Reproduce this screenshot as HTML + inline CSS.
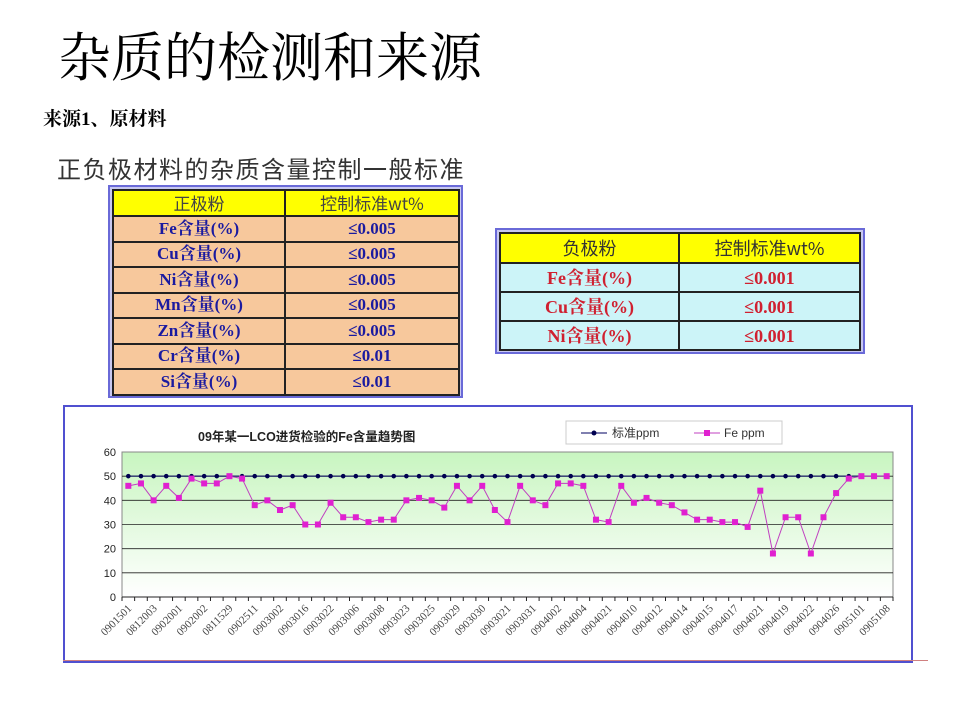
<!DOCTYPE html>
<html><head><meta charset="utf-8"><style>
body{margin:0;width:960px;height:720px;background:#fff;position:relative;overflow:hidden;font-family:"Liberation Sans","Noto Sans CJK SC",sans-serif}
.a{position:absolute;white-space:nowrap}
table{border-collapse:collapse;position:absolute;table-layout:fixed}
td{border:2px solid #222;text-align:center;font-family:"Liberation Serif","Noto Serif CJK SC",serif;font-weight:bold;padding:0;line-height:18px;overflow:hidden}
</style></head><body>
<div class="a" style="left:58px;top:27px;font-size:53px;font-family:'Liberation Serif','Noto Serif CJK SC',serif;line-height:64px">杂质的检测和来源</div>
<div class="a" style="left:43px;top:104px;font-size:19px;font-weight:bold;font-family:'Liberation Serif','Noto Serif CJK SC',serif">来源1、原材料</div>
<div class="a" style="left:57px;top:150px;font-size:24px;color:#333;letter-spacing:1.5px;font-family:'Liberation Sans','Noto Sans CJK SC',sans-serif">正负极材料的杂质含量控制一般标准</div>
<div class="a" style="left:108px;top:185px;width:351px;height:209px;border:2px solid #6a6ad8;background:#c8c8f0"></div>
<table style="left:112px;top:189px;width:348px;color:#1a1aa0;font-size:17px">
<tr style="height:26px;background:#ffff00;color:#444"><td style="width:170px;font-weight:normal;font-family:'Noto Sans CJK SC',sans-serif">正极粉</td><td style="font-weight:normal;font-family:'Noto Sans CJK SC',sans-serif">控制标准wt%</td></tr>
<tr style="height:25.5px;background:#f7c89c"><td>Fe含量(%)</td><td>≤0.005</td></tr>
<tr style="height:25.5px;background:#f7c89c"><td>Cu含量(%)</td><td>≤0.005</td></tr>
<tr style="height:25.5px;background:#f7c89c"><td>Ni含量(%)</td><td>≤0.005</td></tr>
<tr style="height:25.5px;background:#f7c89c"><td>Mn含量(%)</td><td>≤0.005</td></tr>
<tr style="height:25.5px;background:#f7c89c"><td>Zn含量(%)</td><td>≤0.005</td></tr>
<tr style="height:25.5px;background:#f7c89c"><td>Cr含量(%)</td><td>≤0.01</td></tr>
<tr style="height:25.5px;background:#f7c89c"><td>Si含量(%)</td><td>≤0.01</td></tr>
</table>
<div class="a" style="left:495px;top:228px;width:366px;height:122px;border:2px solid #6a6ad8;background:#c8c8f0"></div>
<table style="left:499px;top:232px;width:362px;color:#d02030;font-size:18px">
<tr style="height:30px;background:#ffff00;color:#333"><td style="width:177px;font-weight:normal;font-family:'Noto Sans CJK SC',sans-serif">负极粉</td><td style="font-weight:normal;font-family:'Noto Sans CJK SC',sans-serif">控制标准wt%</td></tr>
<tr style="height:29px;background:#ccf4f8"><td>Fe含量(%)</td><td>≤0.001</td></tr>
<tr style="height:29px;background:#ccf4f8"><td>Cu含量(%)</td><td>≤0.001</td></tr>
<tr style="height:29px;background:#ccf4f8"><td>Ni含量(%)</td><td>≤0.001</td></tr>
</table>
<div class="a" style="left:63px;top:405px;width:846px;height:254px;border:2px solid #5050d0"></div>
<div class="a" style="left:63px;top:660px;width:865px;height:1px;background:#d08080"></div>
<svg class="a" style="left:0;top:0" width="960" height="720" id="s"></svg>
<script>
const fe=[46,47,40,46,41,49,47,47,50,49,38,40,36,38,30,30,39,33,33,31,32,32,40,41,40,37,46,40,46,36,31,46,40,38,47,47,46,32,31,46,39,41,39,38,35,32,32,31,31,29,44,18,33,33,18,33,43,49,50,50,50];
const labs="0901501 0812003 0902001 0902002 0811529 0902511 0903002 0903016 0903022 0903006 0903008 0903023 0903025 0903029 0903030 0903021 0903031 0904002 0904004 0904021 0904010 0904012 0904014 0904015 0904017 0904021 0904019 0904022 0904026 0905101 0905108".split(" ");
const L=122,R=893,T=452,B=597,n=61,step=(R-L)/n;
const X=i=>L+step*(i+0.5),Y=v=>B-(B-T)*v/60;
let h=`<defs><linearGradient id="g" x1="0" y1="0" x2="0" y2="1"><stop offset="0" stop-color="#c8f5c0"/><stop offset="1" stop-color="#ffffff"/></linearGradient></defs>`;
h+=`<rect x="${L}" y="${T}" width="${R-L}" height="${B-T}" fill="url(#g)" stroke="#888"/>`;
for(let v=0;v<=60;v+=10){const y=Y(v);if(v>0&&v<60)h+=`<line x1="${L}" x2="${R}" y1="${y}" y2="${y}" stroke="#222" stroke-width="0.8"/>`;h+=`<text x="${L-6}" y="${y+4}" font-size="11" text-anchor="end" fill="#222">${v}</text>`;}
h+=`<line x1="${L}" x2="${R}" y1="${B}" y2="${B}" stroke="#222"/>`;
for(let i=0;i<=n;i++){const x=L+step*i;h+=`<line x1="${x}" x2="${x}" y1="${B}" y2="${B+4}" stroke="#222"/>`;}
h+=`<polyline points="${fe.map((v,i)=>X(i)+','+Y(50)).join(' ')}" fill="none" stroke="#000060" stroke-width="1"/>`;
fe.forEach((v,i)=>h+=`<circle cx="${X(i)}" cy="${Y(50)}" r="2.3" fill="#000050"/>`);
h+=`<polyline points="${fe.map((v,i)=>X(i)+','+Y(v)).join(' ')}" fill="none" stroke="#c040c0" stroke-width="1"/>`;
fe.forEach((v,i)=>h+=`<rect x="${X(i)-3}" y="${Y(v)-3}" width="6" height="6" fill="#e020d0"/>`);
labs.forEach((s,k)=>{const x=X(2*k)+4,y=B+12;h+=`<text x="${x}" y="${y}" font-size="11" fill="#444" text-anchor="end" font-family="Liberation Serif,serif" transform="rotate(-45 ${x} ${y})">${s}</text>`;});
h+=`<text x="198" y="441" font-size="12.5" font-weight="bold" fill="#222">09年某一LCO进货检验的Fe含量趋势图</text>`;
h+=`<rect x="566" y="421" width="216" height="23" fill="#fff" stroke="#ccc"/>`;
h+=`<line x1="581" x2="607" y1="433" y2="433" stroke="#000060"/><circle cx="594" cy="433" r="2.5" fill="#000050"/><text x="612" y="437" font-size="12" fill="#333">标准ppm</text>`;
h+=`<line x1="694" x2="720" y1="433" y2="433" stroke="#c040c0"/><rect x="704" y="430" width="6" height="6" fill="#e020d0"/><text x="724" y="437" font-size="12" fill="#333">Fe ppm</text>`;
document.getElementById('s').innerHTML=h;
</script>
</body></html>
